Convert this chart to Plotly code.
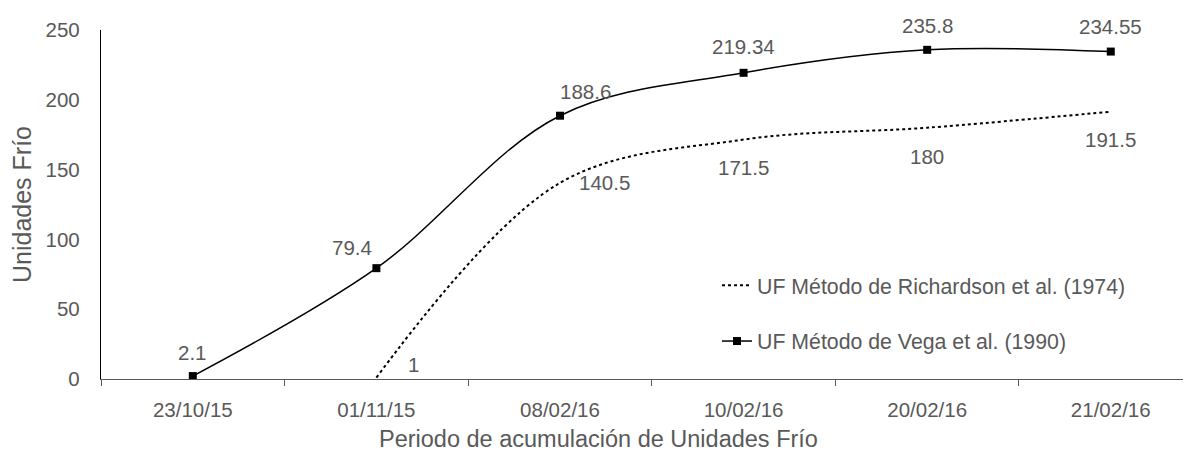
import plotly.graph_objects as go

categories = ["23/10/15", "01/11/15", "08/02/16", "10/02/16", "20/02/16", "21/02/16"]
richardson = [None, 1, 140.5, 171.5, 180, 191.5]
vega = [2.1, 79.4, 188.6, 219.34, 235.8, 234.55]
richardson_labels = ["", "1", "140.5", "171.5", "180", "191.5"]
vega_labels = ["2.1", "79.4", "188.6", "219.34", "235.8", "234.55"]

name_rich = "UF Método de Richardson et al. (1974)"
name_vega = "UF Método de Vega et al. (1990)"
x_title = "Periodo de acumulación de Unidades Frío"
y_title = "Unidades Frío"

# label offsets in pixels (style, not data)
vega_off = [(0, 24), (-24, 21), (26, 24), (0, 26), (0, 24), (0, 25)]
rich_off = [None, (37, 13), (45, 0), (0, -28), (0, -29), (0, -28)]

TXT = "#595959"
FONT = "Liberation Sans, Arial, sans-serif"

fig = go.Figure()
fig.add_trace(go.Scatter(
    x=categories, y=richardson, mode="lines", name=name_rich,
    line=dict(color="black", width=2, dash="dot", shape="spline", smoothing=1),
    connectgaps=False, legendgroup="r",
))
fig.add_trace(go.Scatter(
    x=categories, y=vega, mode="lines+markers", name=name_vega,
    line=dict(color="black", width=1.5, shape="spline", smoothing=1),
    marker=dict(symbol="square", size=8, color="black"),
    legendgroup="v",
))

for i, (c, v, t) in enumerate(zip(categories, vega, vega_labels)):
    dx, dy = vega_off[i]
    fig.add_annotation(x=c, y=v, text=t, showarrow=False, xshift=dx, yshift=dy,
                       font=dict(size=20.5, color=TXT, family=FONT))
for i, (c, v, t) in enumerate(zip(categories, richardson, richardson_labels)):
    if v is None:
        continue
    dx, dy = rich_off[i]
    fig.add_annotation(x=c, y=v, text=t, showarrow=False, xshift=dx, yshift=dy,
                       font=dict(size=20.5, color=TXT, family=FONT))

# x-axis title centred on the whole chart (as in the reference)
fig.add_annotation(xref="paper", yref="paper", x=(598 - 101) / 1090, y=(379 - 439) / 349,
                   xanchor="center", yanchor="middle", showarrow=False, text=x_title,
                   font=dict(size=23.5, color=TXT, family=FONT))

# page body has an 8px margin, so the figure is drawn 8px smaller and offset
fig.update_layout(
    width=1183, height=445,
    margin=dict(l=93, r=0, t=22, b=74, autoexpand=False),
    paper_bgcolor="white", plot_bgcolor="white",
    font=dict(family=FONT, color=TXT, size=20.5),
    showlegend=True,
    legend=dict(x=(717 - 101) / 1090, y=(379 - 265) / 349, xanchor="left", yanchor="top",
                bgcolor="rgba(0,0,0,0)", font=dict(size=21.3, color=TXT, family=FONT),
                traceorder="grouped", tracegroupgap=25),
    xaxis=dict(
        type="category", range=[-0.5, 5.437], automargin=False,
        showline=True, linecolor="#595959", linewidth=1.3,
        ticks="outside", tickson="boundaries", ticklen=6, tickcolor="#595959",
        showgrid=False, zeroline=False,
        tickfont=dict(size=20.5, color=TXT, family=FONT),
        ticklabelstandoff=12,
    ),
    yaxis=dict(
        range=[0, 250], dtick=50, automargin=False,
        showline=True, linecolor="black", linewidth=1.3,
        ticks="", showgrid=False, zeroline=False,
        tickfont=dict(size=20.5, color=TXT, family=FONT),
        ticklabelstandoff=16,
        title=dict(text=y_title, font=dict(size=25, color=TXT, family=FONT), standoff=14),
    ),
)

fig.write_html("out.html")
